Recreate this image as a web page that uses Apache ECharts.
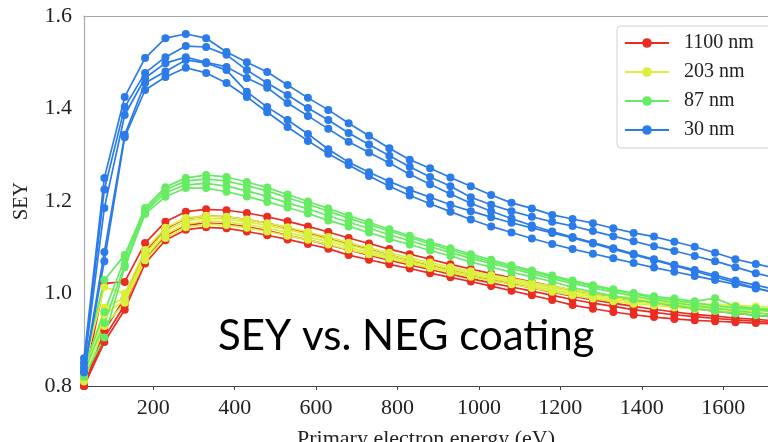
<!DOCTYPE html>
<html><head><meta charset="utf-8">
<script src="https://cdn.jsdelivr.net/npm/echarts@6/dist/echarts.min.js"></script>
<style>html,body{margin:0;padding:0;background:#fff}#c{width:768px;height:442px}</style>
</head><body><div id="c"></div>
<script>
const energy = [30,80,130,180,230,280,330,380,430,480,530,580,630,680,730,780,830,880,930,980,1030,1080,1130,1180,1230,1280,1330,1380,1430,1480,1530,1580,1630,1680,1730];

const red1 = [0.81,1.022,1.025,1.109,1.155,1.177,1.182,1.180,1.174,1.166,1.156,1.145,1.133,1.120,1.108,1.096,1.085,1.074,1.063,1.053,1.043,1.034,1.025,1.016,1.007,0.999,0.992,0.985,0.979,0.973,0.967,0.962,0.957,0.953,0.949];
const red2 = [0.80,0.920,0.990,1.090,1.140,1.162,1.168,1.166,1.160,1.152,1.142,1.131,1.119,1.107,1.095,1.083,1.072,1.061,1.050,1.040,1.030,1.021,1.012,1.003,0.994,0.986,0.979,0.972,0.966,0.960,0.955,0.951,0.947,0.944,0.941];
const red3 = [0.80,0.905,0.975,1.075,1.125,1.148,1.152,1.150,1.144,1.136,1.126,1.116,1.105,1.094,1.083,1.072,1.062,1.052,1.042,1.032,1.023,1.014,1.005,0.996,0.987,0.979,0.972,0.965,0.959,0.954,0.950,0.946,0.943,0.940,0.937];
const red4 = [0.80,0.895,0.965,1.065,1.115,1.138,1.143,1.141,1.134,1.126,1.117,1.107,1.097,1.083,1.073,1.063,1.054,1.044,1.035,1.026,1.016,1.006,0.996,0.986,0.975,0.967,0.960,0.954,0.949,0.945,0.942,0.940,0.938,0.936,0.934];

const yellow1 = [0.84,1.014,1.000,1.094,1.142,1.163,1.168,1.166,1.160,1.152,1.143,1.133,1.122,1.110,1.099,1.088,1.077,1.067,1.057,1.048,1.040,1.032,1.024,1.016,1.008,1.001,0.995,0.990,0.986,0.982,0.979,0.976,0.974,0.972,0.970];
const yellow2 = [0.83,0.969,0.990,1.085,1.135,1.157,1.163,1.161,1.155,1.147,1.138,1.128,1.117,1.105,1.094,1.083,1.073,1.063,1.053,1.044,1.036,1.028,1.020,1.012,1.004,0.997,0.991,0.986,0.982,0.978,0.975,0.972,0.970,0.968,0.966];
const yellow3 = [0.82,0.955,0.985,1.078,1.128,1.150,1.157,1.155,1.149,1.141,1.132,1.122,1.112,1.100,1.089,1.079,1.069,1.059,1.049,1.040,1.032,1.024,1.016,1.008,1.000,0.993,0.987,0.982,0.978,0.974,0.971,0.968,0.965,0.963,0.961];
const yellow4 = [0.81,0.930,0.980,1.072,1.120,1.143,1.150,1.148,1.142,1.134,1.125,1.116,1.106,1.095,1.085,1.075,1.065,1.055,1.045,1.036,1.028,1.020,1.012,1.004,0.996,0.989,0.983,0.978,0.974,0.970,0.966,0.963,0.960,0.958,0.956];

const green1 = [0.85,1.029,1.083,1.185,1.230,1.250,1.256,1.252,1.241,1.229,1.214,1.199,1.184,1.168,1.154,1.139,1.125,1.111,1.098,1.085,1.073,1.061,1.050,1.039,1.028,1.018,1.009,1.001,0.994,0.989,0.983,0.990,0.972,0.968,0.964];
const green2 = [0.84,0.960,1.075,1.180,1.225,1.243,1.248,1.243,1.233,1.222,1.207,1.193,1.178,1.163,1.149,1.135,1.121,1.107,1.094,1.081,1.069,1.058,1.047,1.036,1.026,1.016,1.007,0.999,0.991,0.985,0.979,0.974,0.969,0.965,0.961];
const green3 = [0.83,0.936,1.062,1.176,1.218,1.235,1.238,1.232,1.222,1.210,1.196,1.183,1.168,1.154,1.141,1.127,1.114,1.101,1.089,1.076,1.065,1.054,1.043,1.032,1.022,1.012,1.003,0.995,0.987,0.980,0.974,0.968,0.963,0.958,0.954];
const green4 = [0.82,0.905,1.057,1.172,1.209,1.228,1.228,1.220,1.210,1.198,1.186,1.173,1.158,1.145,1.132,1.118,1.106,1.093,1.081,1.068,1.057,1.046,1.036,1.026,1.013,1.003,0.995,0.987,0.980,0.974,0.968,0.962,0.957,0.953,0.949];

const blue1 = [0.86,1.250,1.425,1.509,1.552,1.561,1.552,1.522,1.500,1.479,1.451,1.423,1.397,1.368,1.341,1.314,1.289,1.271,1.251,1.232,1.213,1.196,1.184,1.170,1.161,1.152,1.141,1.131,1.123,1.112,1.101,1.088,1.074,1.064,1.054];
const blue2 = [0.85,1.225,1.403,1.477,1.511,1.535,1.533,1.516,1.483,1.455,1.429,1.401,1.375,1.347,1.322,1.298,1.274,1.252,1.232,1.208,1.192,1.178,1.166,1.155,1.146,1.135,1.124,1.113,1.102,1.092,1.081,1.070,1.057,1.044,1.033];
const blue3 = [0.84,1.185,1.386,1.466,1.498,1.511,1.500,1.490,1.466,1.445,1.412,1.384,1.356,1.328,1.305,1.282,1.258,1.236,1.215,1.195,1.178,1.162,1.147,1.134,1.122,1.110,1.098,1.086,1.074,1.062,1.051,1.040,1.028,1.018,1.008];
const blue4 = [0.83,1.090,1.343,1.455,1.480,1.505,1.498,1.483,1.436,1.403,1.375,1.345,1.312,1.284,1.262,1.242,1.224,1.208,1.192,1.178,1.165,1.153,1.142,1.131,1.120,1.108,1.096,1.084,1.072,1.060,1.048,1.036,1.024,1.012,1.001];
const blue5 = [0.83,1.070,1.338,1.440,1.468,1.488,1.477,1.455,1.425,1.392,1.360,1.330,1.302,1.278,1.254,1.232,1.212,1.194,1.177,1.160,1.145,1.132,1.119,1.107,1.096,1.086,1.076,1.066,1.056,1.047,1.038,1.029,1.020,1.011,1.002];

const xTicks = [200,400,600,800,1000,1200,1400,1600];
const legendNames = ['1100 nm','203 nm','87 nm','30 nm'];
const groupColors = ['#ea2c22','#d9f03c','#66ec62','#2b7be9'];
const groupCurves = [[red1,red2,red3,red4],[yellow1,yellow2,yellow3,yellow4],[green1,green2,green3,green4],[blue1,blue2,blue3,blue4,blue5]];

const series = [];
groupCurves.forEach((curves, gi) => {
  curves.forEach(c => {
    series.push({
      type: 'line', name: legendNames[gi],
      data: energy.map((e, i) => [e, c[i]]),
      symbol: 'circle', symbolSize: 8, showSymbol: true,
      itemStyle: { color: groupColors[gi] },
      lineStyle: { color: groupColors[gi], width: 1.7 },
      emphasis: { disabled: true }, animation: false, clip: true
    });
  });
});

const serif = 'Liberation Serif';
const chart = echarts.init(document.getElementById('c'));
chart.setOption({
  animation: false,
  backgroundColor: '#fff',
  grid: { left: 84, right: 0, top: 16, bottom: 56, containLabel: false, outerBoundsMode: 'none' },
  legend: {
    data: legendNames, orient: 'vertical', left: 617, top: 26,
    itemWidth: 44, itemHeight: 12, itemGap: 9,
    padding: [7, 60, 8, 7],
    backgroundColor: 'rgba(255,255,255,0.9)', borderColor: '#d0d0d0', borderWidth: 1, borderRadius: 4,
    textStyle: { fontFamily: serif, fontSize: 20, color: '#222', lineHeight: 20, padding: [0, 0, 0, 10] },
    selectedMode: false
  },
  xAxis: [{
    type: 'value', position: 'bottom', min: 30, max: 1710,
    axisLine: { show: true, lineStyle: { color: '#444', width: 1.2 } },
    axisTick: { show: true, length: 4, customValues: xTicks, lineStyle: { color: '#444' } },
    axisLabel: { customValues: xTicks, formatter: v => String(v), fontFamily: serif, fontSize: 22, color: '#222', margin: 11 },
    splitLine: { show: false },
    name: 'Primary electron energy (eV)', nameLocation: 'middle', nameGap: 42,
    nameTextStyle: { fontFamily: serif, fontSize: 22, color: '#222' }
  }, {
    type: 'value', position: 'top', min: 30, max: 1710,
    axisLine: { show: true, lineStyle: { color: '#aaa', width: 1.2 } },
    axisTick: { show: false }, axisLabel: { show: false }, splitLine: { show: false }
  }],
  yAxis: {
    type: 'value', min: 0.8, max: 1.6, interval: 0.2,
    axisLine: { show: true, lineStyle: { color: '#aaa', width: 1.2 } },
    axisTick: { show: false },
    axisLabel: { formatter: v => v.toFixed(1), fontFamily: serif, fontSize: 22, color: '#222', margin: 12 },
    splitLine: { show: false },
    name: 'SEY', nameLocation: 'middle', nameGap: 52, nameRotate: 90,
    nameTextStyle: { fontFamily: serif, fontSize: 20, color: '#222' }
  },
  graphic: [{
    type: 'text', left: 218, top: 315, z: 100,
    style: { text: 'SEY vs. NEG coating', font: '42px Lato', fill: '#000' }
  }],
  series: series
});
</script></body></html>
